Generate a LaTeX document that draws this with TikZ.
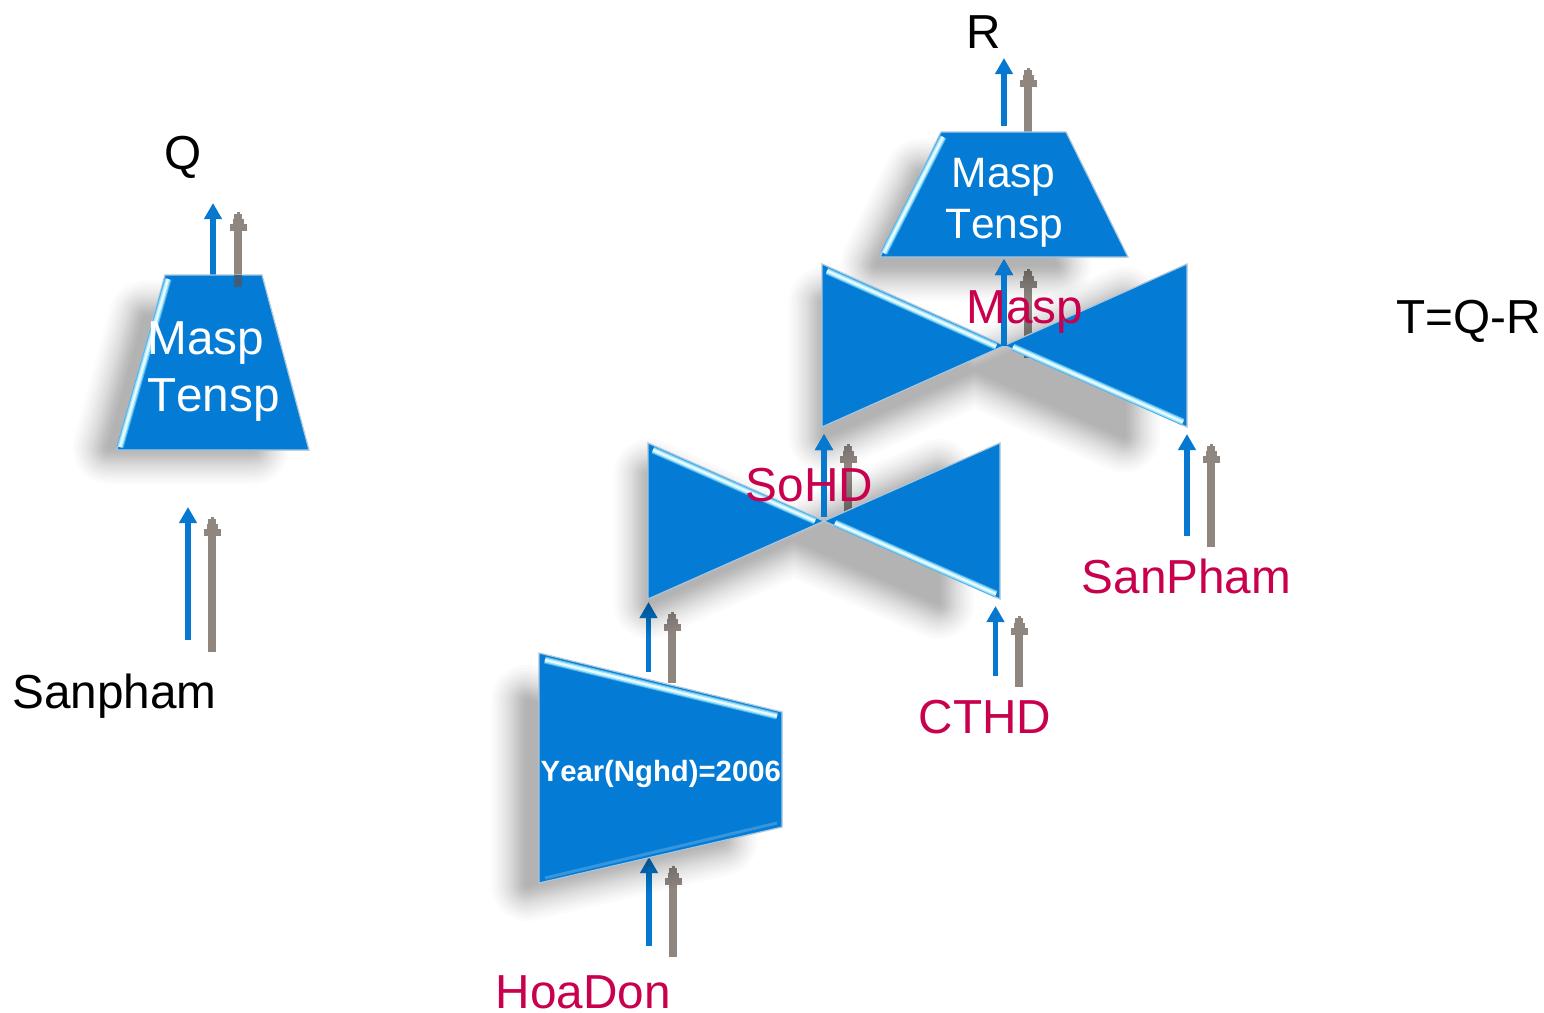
\documentclass[tikz,border=0pt]{standalone}
\usepackage{fontspec}
\setmainfont[Kerning=Off]{Liberation Sans}
\usetikzlibrary{arrows.meta}
\definecolor{shapeblue}{HTML}{047CD5}
\definecolor{edgeblue}{HTML}{A9C6DC}
\definecolor{arrowblue}{HTML}{0678D0}
\definecolor{arrowgray}{HTML}{8F8680}
\definecolor{labelred}{HTML}{C8004E}
\definecolor{overlapgray}{HTML}{3D5F7D}
\definecolor{glowouter}{HTML}{4FB3EC}
\definecolor{glowmid}{HTML}{9BE2FA}
\definecolor{glowcore}{HTML}{E6FAFF}
\def\pathQ{(165,275)--(262,275)--(309,450)--(117,450)--cycle}
\def\pathR{(941,132)--(1066,132)--(1128,257)--(880,257)--cycle}
\def\pathY{(539,653)--(782,712)--(782,827)--(539,883)--cycle}
\def\pathBa{(822,264)--(1187,427)--(1187,264)--(822,427)--cycle}
\def\pathBb{(648,443)--(1000,599)--(1000,443)--(648,599)--cycle}
\newcommand{\softshadow}[5]{% path, dx, dy, centre, scale
  \foreach \w in {3,6,9,12,15,18,21,24,27,30,33,36,40,44,48,52,56,61,66,72}{
    \begin{scope}[transparency group,opacity=0.015,shift={(#2,#3)},scale around={#5:#4}]
      \path[fill=black,draw=black,line join=round,line width=\w pt] #1;
    \end{scope}}}
\tikzset{
  x=1pt,y=-1pt,
  blueup/.style={draw=arrowblue,line width=5.6pt,-{Triangle[length=16pt,width=17pt,sep=0pt]}},
  grayup/.style={draw=arrowgray,line width=8pt,-{Rectangle[length=7pt,width=17pt,sep=0pt]Rectangle[length=5pt,width=11pt,sep=0pt]Rectangle[length=4pt,width=7pt,sep=0pt]Rectangle[length=3pt,width=3pt,sep=0pt]}},
  solid shape/.style={fill=shapeblue,draw=edgeblue,line width=1.2pt,line join=miter},
  glowa/.style={draw=glowouter,line width=7pt},
  glowb/.style={draw=glowmid,line width=5pt},
  glowc/.style={draw=glowcore,line width=2.4pt},
  lbl/.style={anchor=base west,inner sep=0pt,font=\fontsize{47.7}{50}\selectfont},
  redlbl/.style={lbl,text=labelred},
  whitelbl/.style={lbl,text=white},
}
\newcommand{\pairarrow}[5]{% name, x, ybottom, ytop
  \coordinate (#1s) at (#2,#3);
  \coordinate (#1e) at (#2,#4);
  \draw[#5] (#1s) -- (#1e);}
\newcommand{\bevel}[4]{% start, end
  \draw[glowa] (#1,#2) -- (#3,#4);
  \draw[glowb] (#1,#2) -- (#3,#4);
  \draw[glowc] (#1,#2) -- (#3,#4);}
\begin{document}
\begin{tikzpicture}
\useasboundingbox (0,0) rectangle (1544,1012);
\fill[white] (0,0) rectangle (1544,1012);
% arrows under the shadows
\pairarrow{qb}{213}{275}{203}{blueup}
\pairarrow{qg}{238}{287}{212}{grayup}
\pairarrow{sb}{188}{640}{507}{blueup}
\pairarrow{sg}{212}{652}{517}{grayup}
\pairarrow{rb}{1004}{126}{58}{blueup}
\pairarrow{rg}{1028}{132}{68}{grayup}
\pairarrow{mb}{1004}{346}{259}{blueup}
\pairarrow{mg}{1028}{358}{269}{grayup}
\pairarrow{hb}{824}{517}{434}{blueup}
\pairarrow{hg}{848}{512}{444}{grayup}
\pairarrow{pb}{1187}{536}{434}{blueup}
\pairarrow{pg}{1211}{547}{444}{grayup}
\pairarrow{yb}{648.5}{672}{602}{blueup}
\pairarrow{yg}{672}{683}{612}{grayup}
\pairarrow{cb}{995.5}{676}{606}{blueup}
\pairarrow{cg}{1019}{687}{616}{grayup}
\pairarrow{ob}{649}{946}{857}{blueup}
\pairarrow{og}{673}{957}{866}{grayup}
% shadows
\softshadow{\pathQ}{-32}{20}{(213,362)}{0.75}
\softshadow{\pathR}{-38}{25}{(1004,195)}{0.72}
\softshadow{\pathBa}{-30}{24}{(1004,346)}{0.82}
\softshadow{\pathBb}{-30}{18}{(824,521)}{0.82}
\softshadow{\pathY}{-36}{25}{(660,768)}{0.8}
% shapes
\path[solid shape] \pathQ;
\path[solid shape] \pathR;
\path[solid shape] \pathBa;
\path[solid shape] \pathBb;
\path[solid shape] \pathY;
% bevel highlights
\bevel{168}{279}{120}{447}
\bevel{943}{137}{884}{253}
\bevel{827}{271}{996}{346.5}
\bevel{1013}{347}{1183}{422}
\bevel{653}{450}{815}{521}
\bevel{835}{523}{996}{594}
\bevel{545}{660}{777}{716}
\draw[draw=shapeblue!80!white,line width=3pt] (545,878) -- (777,823);
% arrow parts seen over the shapes
\coordinate (qo) at (238,275);
\draw[draw=overlapgray,line width=8pt] (qo) -- (qgs);
\draw[blueup] (mbs) -- (mbe);
\draw[blueup] (hbs) -- (hbe);
% labels
\node[lbl] (tq) at (164,169) {Q};
\node[lbl] (tr) at (966.5,48) {R};
\node[lbl] (tt) at (1396,333) {T=Q-R};
\node[lbl] (ts) at (12,708) {Sanpham};
\node[redlbl] (tm) at (966.5,323) {Masp};
\node[redlbl] (th) at (745.5,501) {SoHD};
\node[redlbl] (tp) at (1081.5,593) {SanPham};
\node[redlbl] (tc) at (918.5,733) {CTHD};
\node[redlbl] (to) at (495.5,1008) {HoaDon};
\node[whitelbl] (q1) at (147.5,354.5) {Masp};
\node[whitelbl] (q2) at (147,411.5) {Tensp};
\node[whitelbl,font=\fontsize{42.5}{44}\selectfont] (r1) at (951.5,187.5) {Masp};
\node[whitelbl,font=\fontsize{42.5}{44}\selectfont] (r2) at (945,238.5) {Tensp};
\node[whitelbl,font=\bfseries\fontsize{29.3}{31}\selectfont] (y1) at (540.5,781) {Year(Nghd)=2006};
\end{tikzpicture}
\end{document}
